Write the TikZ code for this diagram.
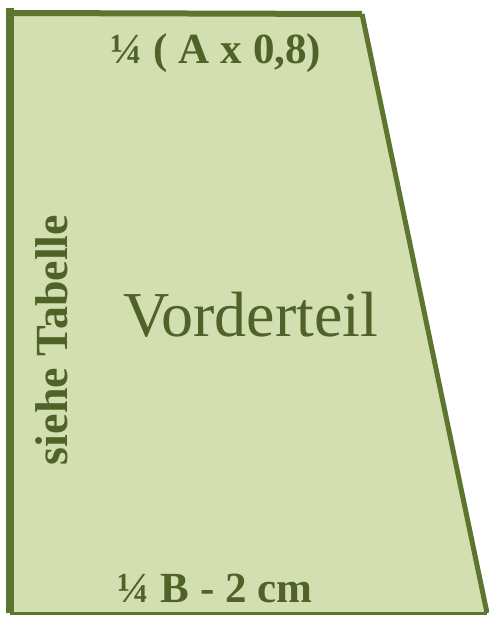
\documentclass[tikz,border=0pt]{standalone}
\usepackage{fontspec}
\setmainfont{Liberation Serif}
\definecolor{panelfill}{HTML}{D3DFB0}
\definecolor{panelline}{HTML}{5E7530}
\definecolor{paneltext}{HTML}{4F6228}
\begin{document}
\begin{tikzpicture}[x=1pt,y=-1pt,
  lbl/.style={text=paneltext,font=\bfseries\fontsize{43}{43}\selectfont,inner sep=0pt,anchor=base},
  title/.style={text=paneltext,font=\fontsize{64}{64}\selectfont,inner sep=0pt,anchor=base}]
\useasboundingbox (0,0) rectangle (488,617);
\coordinate (tl) at (10,13);
\coordinate (tr) at (362,14);
\coordinate (br) at (487,613);
\coordinate (bl) at (10,613);
\fill[panelfill] (tl) -- (tr) -- (br) -- (bl) -- cycle;
\draw[panelline,line width=6pt] (tl) -- (tr);
\draw[panelline,line width=5pt,line join=round] (tr) -- (br);
\draw[panelline,line width=3pt] (br) -- (bl);
\draw[panelline,line width=8pt] (10,8) -- (bl);
\node[lbl] (top) at (216,64) {¼ ( A x 0,8)};
\node[lbl] (bot) at (215,602) {¼ B - 2 cm};
\node[lbl,rotate=90,font=\bfseries\fontsize{46}{46}\selectfont] (side) at (67,340) {siehe Tabelle};
\node[title] (name) at (251,336) {Vorderteil};
\end{tikzpicture}
\end{document}
